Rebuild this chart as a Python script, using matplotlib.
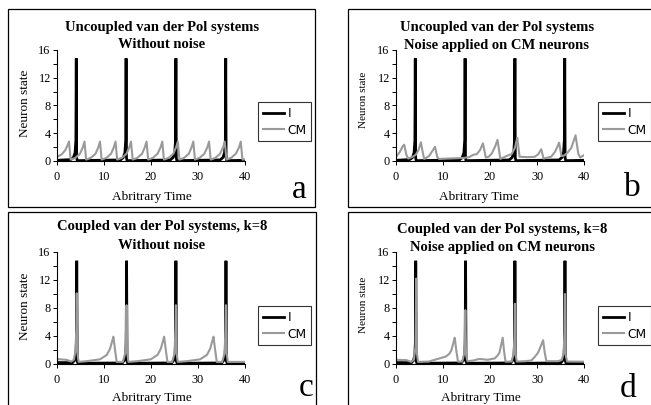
import matplotlib
matplotlib.use("Agg")
import matplotlib.pyplot as plt
from matplotlib.patches import Rectangle

W, H = 651, 405

# ---- data (time, neuron state) ----
# I neurons, uncoupled (panels a and b)
i_unc_t = [0, 2.9, 3.5, 3.85, 4.02, 4.1, 4.18, 4.3,
           13.5, 14.1, 14.45, 14.62, 14.7, 14.78, 14.9,
           24.1, 24.7, 25.05, 25.22, 25.3, 25.38, 25.5,
           34.7, 35.3, 35.65, 35.82, 35.9, 35.98, 36.1, 40]
i_unc_v = [0.1, 0.2, 0.5, 1.2, 3.0, 14.8, 0.5, 0.05,
           0.15, 0.5, 1.2, 3.0, 14.8, 0.5, 0.05,
           0.15, 0.5, 1.2, 3.0, 14.8, 0.5, 0.05,
           0.15, 0.5, 1.2, 3.0, 14.8, 0.5, 0.05, 0.1]

# CM neurons, uncoupled, no noise (panel a)
cm_a_t = [0, 1.0, 1.8, 2.2, 2.55, 2.9,
          3.9, 4.9, 5.5, 5.85, 6.2,
          7.2, 8.2, 8.8, 9.15, 9.5,
          10.5, 11.5, 12.1, 12.45, 12.8,
          13.8, 14.8, 15.4, 15.75, 16.1,
          17.1, 18.1, 18.7, 19.05, 19.4,
          20.4, 21.4, 22.05, 22.4, 22.75,
          23.75, 24.75, 25.35, 25.7, 26.05,
          27.05, 28.05, 28.65, 29.0, 29.35,
          30.35, 31.35, 32.0, 32.35, 32.7,
          33.7, 34.7, 35.35, 35.7, 36.05,
          37.05, 38.05, 38.75, 39.1, 39.45, 40]
cm_a_v = [0.6, 0.95, 1.6, 2.2, 2.8, 0.2,
          0.45, 1.05, 2.0, 2.8, 0.2,
          0.45, 1.05, 2.0, 2.8, 0.2,
          0.45, 1.05, 2.0, 2.8, 0.2,
          0.45, 1.05, 2.0, 2.8, 0.2,
          0.45, 1.05, 2.0, 2.8, 0.2,
          0.45, 1.05, 2.0, 2.8, 0.2,
          0.45, 1.05, 2.0, 2.8, 0.2,
          0.45, 1.05, 2.0, 2.8, 0.2,
          0.45, 1.05, 2.0, 2.8, 0.2,
          0.45, 1.05, 2.0, 2.8, 0.2,
          0.45, 1.05, 2.0, 2.8, 0.2, 0.25]

# CM neurons, uncoupled, with noise (panel b)
cm_b_t = [0, 0.8, 1.4, 1.75, 2.2, 2.6, 3.5, 4.2, 4.8, 5.3, 5.7, 6.0,
          7.0, 7.8, 8.3, 8.8, 9.2, 11.0, 13.0, 14.5, 15.5, 16.5, 17.2,
          17.9, 18.5, 19.1, 19.7, 20.4, 21.1, 21.6, 22.2, 22.8, 23.8,
          24.6, 25.3, 25.8, 26.3, 26.8, 28.0, 29.5, 30.3, 30.9, 31.4,
          32.0, 33.0, 33.8, 34.3, 34.7, 35.2, 35.8, 36.5, 37.3, 37.8,
          38.2, 38.8, 39.2, 40]
cm_b_v = [0.6, 1.3, 2.1, 2.35, 0.9, 0.35, 0.6, 0.9, 1.6, 2.7, 1.2, 0.3,
          0.7, 1.5, 2.05, 0.5, 0.3, 0.35, 0.4, 0.45, 0.55, 0.9, 1.0,
          1.6, 2.55, 0.5, 0.6, 1.1, 2.1, 3.05, 0.3, 0.5, 0.8,
          1.0, 1.9, 3.35, 0.6, 0.6, 0.55, 0.6, 1.0, 1.7, 0.35,
          0.45, 0.6, 1.3, 2.0, 2.65, 0.7, 0.8, 1.2, 1.9, 2.9,
          3.7, 1.0, 0.5, 0.85]

# I neurons, coupled (panels c and d)
i_cpl_t = [0, 3.3, 3.7, 4.0, 4.12, 4.2, 4.3, 4.45,
           13.9, 14.3, 14.6, 14.72, 14.8, 14.9, 15.05,
           24.4, 24.8, 25.1, 25.22, 25.3, 25.4, 25.55,
           35.05, 35.45, 35.75, 35.87, 35.95, 36.05, 36.2, 40]
i_cpl_v = [0.2, 0.2, 0.5, 1.2, 3.0, 14.75, 0.4, 0.1,
           0.15, 0.5, 1.2, 3.0, 14.75, 0.4, 0.1,
           0.15, 0.5, 1.2, 3.0, 14.75, 0.4, 0.1,
           0.15, 0.5, 1.2, 3.0, 14.75, 0.4, 0.1, 0.15]

# CM neurons, coupled k=8, no noise (panel c)
cm_c_t = [0, 2.0, 3.0, 3.6, 3.95, 4.1, 4.2, 4.35, 4.6,
          6.3, 9.15, 10.6, 11.3, 11.75, 12.0, 12.35, 12.7,
          14.0, 14.5, 14.7, 14.8, 14.95, 15.2,
          17.1, 19.95, 21.4, 22.1, 22.55, 22.8, 23.15, 23.5,
          24.5, 25.0, 25.2, 25.3, 25.45, 25.7,
          27.6, 30.45, 31.9, 32.6, 33.05, 33.3, 33.65, 34.0,
          35.15, 35.65, 35.85, 35.95, 36.1, 36.35, 40]
cm_c_v = [0.7, 0.6, 0.35, 0.6, 2.0, 5.0, 10.1, 1.5, 0.3,
          0.4, 0.67, 1.3, 2.2, 3.3, 3.9, 2.0, 0.3,
          0.3, 1.5, 5.0, 8.4, 1.5, 0.3,
          0.4, 0.67, 1.3, 2.2, 3.3, 3.9, 2.0, 0.3,
          0.3, 1.5, 5.0, 8.4, 1.5, 0.3,
          0.4, 0.67, 1.3, 2.2, 3.3, 3.9, 2.0, 0.3,
          0.3, 1.5, 5.0, 8.4, 1.5, 0.3, 0.3]

# CM neurons, coupled k=8, with noise (panel d)
cm_d_t = [0, 2.3, 3.2, 3.8, 4.15, 4.3, 4.45, 4.7, 7.0, 8.6, 9.8, 10.7,
          11.4, 11.8, 12.2, 12.5, 12.85, 13.2, 14.1, 14.5, 14.65, 14.75,
          14.9, 15.2, 16.5, 17.5, 18.2, 19.5, 21.0, 21.6, 22.0, 22.4, 22.7,
          23.0, 23.3, 24.6, 25.05, 25.2, 25.3, 25.45, 25.7, 27.5, 28.8,
          29.5, 30.2, 30.6, 31.3, 31.65, 32.0, 34.5, 35.3, 35.65, 35.85,
          35.95, 36.1, 36.4, 40]
cm_d_v = [0.6, 0.55, 0.3, 0.6, 2.5, 12.2, 1.5, 0.3, 0.35, 0.67, 0.9, 1.1,
          1.5, 2.0, 3.0, 3.75, 1.8, 0.33, 0.35, 1.5, 4.0, 7.7,
          1.3, 0.4, 0.5, 0.7, 0.7, 0.6, 0.8, 1.2, 1.6, 2.8, 3.75,
          1.8, 0.33, 0.35, 1.5, 4.0, 8.6, 1.3, 0.35, 0.4, 0.5,
          1.0, 1.6, 2.2, 3.4, 1.6, 0.4, 0.4, 0.6, 1.5, 4.5,
          10.0, 1.3, 0.35, 0.33]

titles = [("Uncoupled van der Pol systems", "Without noise"),
          ("Uncoupled van der Pol systems", "Noise applied on CM neurons"),
          ("Coupled van der Pol systems, k=8", "Without noise"),
          ("Coupled van der Pol systems, k=8", "Noise applied on CM neurons")]
letters = ["a", "b", "c", "d"]
x_ticks = [0, 10, 20, 30, 40]
y_ticks = [0, 4, 8, 12, 16]

SERIF = "Liberation Serif"
GREY = "#9a9a9a"

fig = plt.figure(figsize=(W / 100, H / 100), dpi=100)


def px_rect(x0, y0, x1, y1):
    # pixel box (top-left origin) -> figure fraction [left, bottom, w, h]
    return [x0 / W, 1 - y1 / H, (x1 - x0) / W, (y1 - y0) / H]


# panel frames
for (x0, y0, x1, y1) in [(8, 9, 315, 207), (348, 9, 660, 207),
                         (8, 212, 316, 410), (348, 212, 660, 410)]:
    l, b, w, h = px_rect(x0, y0, x1, y1)
    fig.patches.append(Rectangle((l, b), w, h, transform=fig.transFigure,
                                 fill=False, edgecolor="black", lw=0.9))

panels = [
    dict(box=(57, 50, 245, 161), i=(i_unc_t, i_unc_v), cm=(cm_a_t, cm_a_v),
         tx=162, ty=(27.5, 45), xl=(152, 197), yl=(25, 103, 9.5), let=(299, 190, "center"), leg=(258, 102)),
    dict(box=(396, 50, 584, 161), i=(i_unc_t, i_unc_v), cm=(cm_b_t, cm_b_v),
         tx=497, ty=(28, 46), xl=(479, 197), yl=(363, 100, 8), let=(632, 188, "center"), leg=(598, 102)),
    dict(box=(57, 252, 245, 364), i=(i_cpl_t, i_cpl_v), cm=(cm_c_t, cm_c_v),
         tx=162, ty=(227, 245.5), xl=(152, 398), yl=(25, 306, 9.5), let=(306, 388, "center"), leg=(258, 306)),
    dict(box=(396, 252, 584, 364), i=(i_cpl_t, i_cpl_v), cm=(cm_d_t, cm_d_v),
         tx=502, ty=(230, 247.5), xl=(481, 398), yl=(363, 305, 8), let=(628, 404, "bottom"), leg=(598, 306)),
]

for k, p in enumerate(panels):
    ax = fig.add_axes(px_rect(*p["box"]))
    ax.plot(p["i"][0], p["i"][1], color="black", lw=2.0, label="I",
            solid_joinstyle="miter")
    ax.plot(p["cm"][0], p["cm"][1], color=GREY, lw=1.5, label="CM")
    ax.set_xlim(0, 40)
    ax.set_ylim(0, 16)
    ax.set_xticks(x_ticks)
    ax.set_yticks(y_ticks)
    ax.set_yticks([2, 6, 10, 14], minor=True)
    for s in ["top", "right"]:
        ax.spines[s].set_visible(False)
    for s in ["left", "bottom"]:
        ax.spines[s].set_linewidth(0.8)
    ax.tick_params(which="both", direction="out", length=3, width=0.7,
                   labelsize=8.8)
    ax.tick_params(axis="x", pad=4)
    ax.tick_params(axis="y", pad=1.5)
    for lab in ax.get_xticklabels() + ax.get_yticklabels():
        lab.set_family(SERIF)
    ax.patch.set_alpha(0)

    for line, ty in zip(titles[k], p["ty"]):
        fig.text(p["tx"] / W, 1 - ty / H, line, ha="center", va="center",
                 family=SERIF, fontweight="bold", fontsize=10.5)
    fig.text(p["xl"][0] / W, 1 - p["xl"][1] / H, "Abritrary Time", ha="center",
             va="center", family=SERIF, fontsize=9.5)
    fig.text(p["yl"][0] / W, 1 - p["yl"][1] / H, "Neuron state", ha="center",
             va="center", rotation=90, family=SERIF, fontsize=p["yl"][2])
    fig.text(p["let"][0] / W, 1 - p["let"][1] / H, letters[k], ha="center",
             va=p["let"][2], family=SERIF, fontsize=24)

    leg = ax.legend(loc="upper left",
                    bbox_to_anchor=(p["leg"][0] / W, 1 - p["leg"][1] / H),
                    bbox_transform=fig.transFigure, frameon=True, fancybox=False,
                    prop={"family": "DejaVu Sans", "size": 8.8},
                    handlelength=1.7, handletextpad=0.3, labelspacing=0.3,
                    borderpad=0.4, borderaxespad=0)
    leg.get_frame().set_edgecolor("black")
    leg.get_frame().set_linewidth(0.8)

fig.savefig("out.png", dpi=100)
